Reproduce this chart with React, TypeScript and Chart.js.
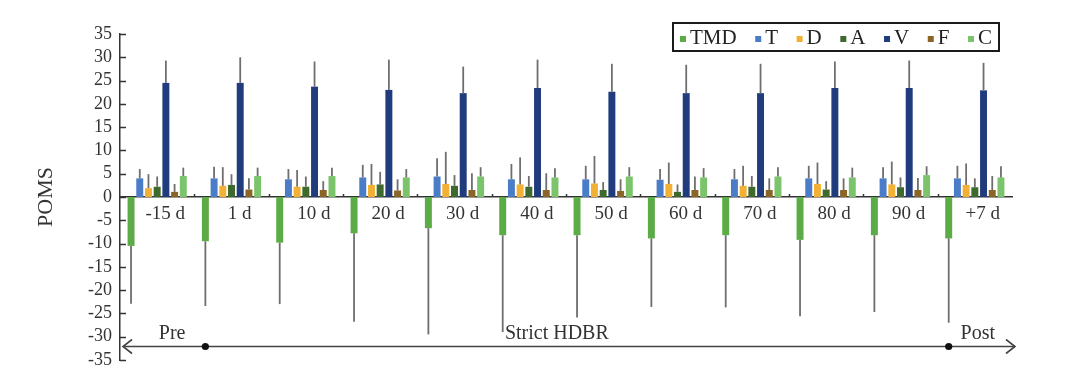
import React, { useEffect, useRef } from "react";
import { Chart, registerables } from "chart.js";

Chart.register(...registerables);

// ---- data ----
const categories = ["-15 d", "1 d", "10 d", "20 d", "30 d", "40 d", "50 d", "60 d", "70 d", "80 d", "90 d", "+7 d"];
const seriesNames = ["TMD", "T", "D", "A", "V", "F", "C"];
const seriesColors = ["#5bab47", "#4a7cc8", "#f2b134", "#3e6a2e", "#203c7c", "#8b6428", "#7cc46c"];

const tmdMean = [-10.5, -9.5, -9.8, -7.8, -6.7, -8.2, -8.2, -8.9, -8.2, -9.2, -8.2, -8.9];
const tmdSD = [12.4, 13.9, 13.2, 19.0, 22.8, 20.8, 17.7, 14.7, 15.5, 16.4, 16.5, 18.1];
const tMean = [4.0, 4.0, 3.8, 4.2, 4.4, 3.8, 3.8, 3.7, 3.8, 4.0, 4.0, 4.0];
const tSD = [2.0, 2.5, 2.2, 2.7, 3.9, 3.3, 2.9, 2.3, 2.2, 2.7, 2.4, 2.7];
const dMean = [1.9, 2.4, 2.2, 2.6, 2.8, 2.7, 2.9, 2.8, 2.4, 2.8, 2.7, 2.6];
const dSD = [3.0, 4.0, 3.6, 4.5, 6.9, 5.8, 5.9, 4.6, 4.3, 4.6, 4.9, 4.6];
const aMean = [2.2, 2.6, 2.2, 2.7, 2.4, 2.2, 1.5, 1.1, 2.2, 1.6, 2.1, 2.1];
const aSD = [2.2, 2.3, 2.2, 2.7, 2.3, 2.3, 1.7, 1.6, 2.3, 1.8, 2.1, 1.9];
const vMean = [24.5, 24.5, 23.7, 23.0, 22.3, 23.4, 22.6, 22.3, 22.3, 23.4, 23.4, 22.9];
const vSD = [4.8, 5.5, 5.4, 6.5, 5.7, 6.1, 6.0, 6.1, 6.3, 5.7, 5.9, 5.9];
const fMean = [1.1, 1.6, 1.5, 1.4, 1.5, 1.5, 1.3, 1.5, 1.5, 1.5, 1.5, 1.5];
const fSD = [1.7, 2.4, 1.9, 2.4, 3.6, 3.6, 2.5, 2.9, 2.5, 2.5, 2.6, 3.0];
const cMean = [4.5, 4.5, 4.5, 4.2, 4.4, 4.2, 4.4, 4.2, 4.4, 4.2, 4.7, 4.2];
const cSD = [1.8, 1.8, 1.8, 1.8, 2.0, 2.0, 2.0, 2.0, 2.0, 2.1, 1.9, 2.4];

const seriesMeans = [tmdMean, tMean, dMean, aMean, vMean, fMean, cMean];
const seriesSDs = [tmdSD, tSD, dSD, aSD, vSD, fSD, cSD];

const yMin = -35;
const yMax = 35;
const yStep = 5;
const yTitle = "POMS";

const phaseLabels = ["Pre", "Strict HDBR", "Post"];
const phaseStartIndex = 1; // dot at 1 d
const phaseEndIndex = 11; // dot at +7 d
const timelineValue = -32;

const FONT = "'Liberation Serif', 'Times New Roman', serif";
const INK = "#333333";

const extrasPlugin = {
  id: "extras",
  afterDatasetsDraw(chart: any) {
    const ctx = chart.ctx;
    const y = chart.scales.y;
    ctx.save();
    ctx.strokeStyle = "#6e6e6e";
    ctx.lineWidth = 1.8;
    seriesMeans.forEach((means, i) => {
      const meta = chart.getDatasetMeta(i);
      means.forEach((m, j) => {
        const el = meta.data[j];
        if (!el) return;
        const sd = seriesSDs[i][j];
        const end = m + (m < 0 ? -sd : sd);
        ctx.beginPath();
        ctx.moveTo(el.x, y.getPixelForValue(m));
        ctx.lineTo(el.x, y.getPixelForValue(end));
        ctx.stroke();
      });
    });
    ctx.restore();
  },
  afterDraw(chart: any) {
    const ctx = chart.ctx;
    const x = chart.scales.x;
    const y = chart.scales.y;
    const area = chart.chartArea;
    ctx.save();
    // y ticks (inward)
    ctx.strokeStyle = INK;
    ctx.lineWidth = 1.5;
    for (let v = yMin; v <= yMax; v += yStep) {
      const py = Math.round(y.getPixelForValue(v)) + 0.5;
      ctx.beginPath();
      ctx.moveTo(area.left, py);
      ctx.lineTo(area.left + 6, py);
      ctx.stroke();
    }
    // x category ticks (upward, at boundaries)
    const zero = y.getPixelForValue(0);
    const cw = (area.right - area.left) / categories.length;
    for (let k = 1; k < categories.length; k++) {
      const px = Math.round(area.left + k * cw) + 0.5;
      ctx.beginPath();
      ctx.moveTo(px, zero);
      ctx.lineTo(px, zero - 3);
      ctx.stroke();
    }
    // timeline
    const ty = Math.round(y.getPixelForValue(timelineValue)) + 0.5;
    const lx = area.left + 3;
    const rx = area.right + 3;
    ctx.strokeStyle = "#444";
    ctx.lineWidth = 1.6;
    ctx.beginPath();
    ctx.moveTo(lx, ty);
    ctx.lineTo(rx, ty);
    ctx.stroke();
    ctx.beginPath();
    ctx.moveTo(lx + 9, ty - 7);
    ctx.lineTo(lx, ty);
    ctx.lineTo(lx + 9, ty + 7);
    ctx.moveTo(rx - 9, ty - 7);
    ctx.lineTo(rx, ty);
    ctx.lineTo(rx - 9, ty + 7);
    ctx.stroke();
    const tmdMeta = chart.getDatasetMeta(0);
    const d1 = tmdMeta.data[phaseStartIndex].x;
    const d2 = tmdMeta.data[phaseEndIndex].x;
    ctx.fillStyle = "#111";
    [d1, d2].forEach((dx: number) => {
      ctx.beginPath();
      ctx.arc(dx, ty, 3.6, 0, Math.PI * 2);
      ctx.fill();
    });
    ctx.fillStyle = INK;
    ctx.font = `20px ${FONT}`;
    ctx.textAlign = "center";
    ctx.textBaseline = "middle";
    const textY = ty - 13;
    ctx.fillText(phaseLabels[0], x.getPixelForValue(0) + 15, textY);
    ctx.fillText(phaseLabels[1], x.getPixelForValue(5) + 28, textY);
    ctx.fillText(phaseLabels[2], x.getPixelForValue(11) + 3, textY);

    // legend
    const boxL = area.left + 553;
    const boxR = area.right - 13;
    const boxT = area.top - 11;
    const boxB = area.top + 17;
    ctx.fillStyle = "#fff";
    ctx.fillRect(boxL, boxT, boxR - boxL, boxB - boxT);
    ctx.strokeStyle = "#1a1a1a";
    ctx.lineWidth = 2;
    ctx.strokeRect(boxL, boxT, boxR - boxL, boxB - boxT);
    ctx.font = `21px ${FONT}`;
    ctx.textAlign = "left";
    ctx.textBaseline = "middle";
    const mk = 6;
    const mgap = 4;
    const widths = seriesNames.map((n) => ctx.measureText(n).width);
    const inner = boxR - boxL - 14;
    const used = widths.reduce((a, b) => a + b, 0) + seriesNames.length * (mk + mgap);
    const gap = (inner - used) / (seriesNames.length - 1);
    let cx = boxL + 7;
    const cy = (boxT + boxB) / 2 + 1;
    seriesNames.forEach((n, i) => {
      ctx.fillStyle = seriesColors[i];
      ctx.fillRect(cx, cy - mk / 2 + 1, mk, mk);
      cx += mk + mgap;
      ctx.fillStyle = "#222";
      ctx.fillText(n, cx, cy);
      cx += widths[i] + gap;
    });
    ctx.restore();
  },
};

export default function App() {
  const ref = useRef<HTMLCanvasElement | null>(null);
  useEffect(() => {
    if (!ref.current) return;
    Chart.defaults.font.family = FONT;
    const chart = new Chart(ref.current, {
      type: "bar",
      data: {
        labels: categories,
        datasets: seriesNames.map((name, i) => ({
          label: name,
          data: seriesMeans[i],
          backgroundColor: seriesColors[i],
          borderWidth: 0,
          categoryPercentage: 0.82,
          barPercentage: 0.8,
        })),
      },
      options: {
        responsive: false,
        animation: false,
        devicePixelRatio: 1,
        layout: { padding: { top: 34, bottom: 27, left: 0, right: 68 } },
        plugins: {
          legend: { display: false },
          tooltip: { enabled: false },
        },
        scales: {
          x: {
            type: "category",
            position: { y: 0 } as any,
            offset: true,
            grid: { display: false, drawTicks: false },
            border: { display: true, color: INK, width: 1.5 },
            ticks: {
              color: INK,
              font: { size: 19, family: FONT },
              labelOffset: 8,
              padding: 6,
              autoSkip: false,
              maxRotation: 0,
            },
          },
          y: {
            min: yMin,
            max: yMax,
            afterFit: (s: any) => {
              s.width = 120;
            },
            grid: { display: false, drawTicks: false },
            border: { display: true, color: INK, width: 1.5 },
            ticks: {
              stepSize: yStep,
              autoSkip: false,
              color: INK,
              font: { size: 18, family: FONT, lineHeight: 1 },
              padding: 8,
            },
            title: {
              display: true,
              text: yTitle,
              color: INK,
              font: { size: 22, family: FONT },
              padding: { top: 33, bottom: 0 },
            },
          },
        },
      },
      plugins: [extrasPlugin],
    });
    return () => chart.destroy();
  }, []);
  return (
    <div style={{ position: "fixed", left: 0, top: 0, width: 1080, height: 387, background: "#fff" }}>
      <canvas ref={ref} width={1080} height={387} style={{ display: "block" }} />
    </div>
  );
}
